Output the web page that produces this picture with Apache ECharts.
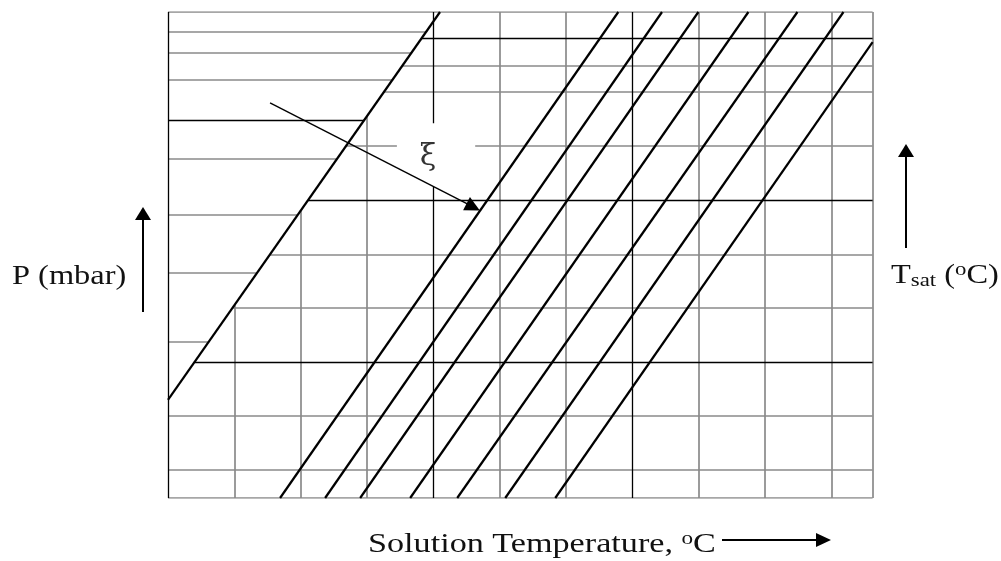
<!DOCTYPE html>
<html>
<head>
<meta charset="utf-8">
<script src="https://cdn.jsdelivr.net/npm/echarts@6/dist/echarts.min.js"></script>
<style>html,body{margin:0;padding:0;background:#fff}#c{width:1001px;height:561px}</style>
</head>
<body>
<div id="c"></div>
<script>
// ---- data (schematic Dühring chart, arbitrary grid units) ----
const xMax = 10.62;            // solution temperature axis extent (grid units)
const yMax = 9;                // Tsat axis extent (grid units)
const verticalLines = [1, 2, 3, 4, 5, 6, 7, 8, 9, 10];
const verticalBold = [4, 7];
const tsatLines = [0.52, 1.52, 2.52, 3.52, 4.5, 5.52, 6.52, 7.52, 8.0, 8.52];
const tsatBold = [2.52, 5.52, 8.52];
const pressureLines = [2.89, 4.17, 5.24, 6.28, 7.0, 7.74, 8.246, 8.635];
const pressureBold = [7.0];
const waterLine = [-1.036, 4.10];          // x at y=0, x at y=yMax (pure refrigerant line)
const solBottomX = [1.689, 2.368, 2.896, 3.650, 4.359, 5.083, 5.837];
const solTopX = [6.787, 7.446, 7.994, 8.748, 9.487, 10.181, 10.937];
const xiArrow = [[1.538, 7.315], [4.60, 5.389]];
const xiLabel = [3.92, 6.31];
const xiGapX = [3.45, 4.63];   // gap in Tsat line 6.52 around label
const xiGapY = [5.76, 6.94];   // gap in vertical line 4 around label
const xiGapLine = 6.52, xiGapVertical = 4;

// ---- build segments ----
const satX = y => waterLine[0] + (waterLine[1] - waterLine[0]) * y / yMax;
const satY = x => yMax * (x - waterLine[0]) / (waterLine[1] - waterLine[0]);
const gray = [], black = [], diag = [];
const seg = (arr, a, b) => arr.push({coords: [a, b]});

verticalLines.forEach(x => {
  const arr = verticalBold.includes(x) ? black : gray;
  const top = x === xiGapVertical ? yMax : Math.min(yMax, satY(x));
  if (x === xiGapVertical) { seg(arr, [x, 0], [x, xiGapY[0]]); seg(arr, [x, xiGapY[1]], [x, top]); }
  else seg(arr, [x, 0], [x, top]);
});
tsatLines.forEach(y => {
  const arr = tsatBold.includes(y) ? black : gray;
  const x1 = Math.max(0, satX(y));
  if (y === xiGapLine) { seg(arr, [x1, y], [xiGapX[0], y]); seg(arr, [xiGapX[1], y], [xMax, y]); }
  else seg(arr, [x1, y], [xMax, y]);
});
pressureLines.forEach(y => {
  const arr = pressureBold.includes(y) ? black : gray;
  seg(arr, [0, y], [satX(y), y]);
});
// frame
seg(gray, [0, yMax], [xMax, yMax]);
seg(gray, [xMax, 0], [xMax, yMax]);
seg(gray, [0, 0], [xMax, 0]);
seg(black, [0, 0], [0, yMax]);
// diagonals
seg(diag, [0, satY(0)], [waterLine[1], yMax]);
solBottomX.forEach((b, i) => {
  const t = solTopX[i];
  if (t > xMax) seg(diag, [b, 0], [xMax, yMax * (xMax - b) / (t - b)]);
  else seg(diag, [b, 0], [t, yMax]);
});

const serif = '"Liberation Serif", "DejaVu Serif", serif';
const chart = echarts.init(document.getElementById('c'), null, {renderer: 'canvas'});
const arrowUp = (x, y1, y2) => [
  {type: 'line', shape: {x1: x, y1: y1, x2: x, y2: y2 + 10}, style: {stroke: '#000', lineWidth: 2}},
  {type: 'polygon', shape: {points: [[x, y2], [x - 8, y2 + 13], [x + 8, y2 + 13]]}, style: {fill: '#000'}}
];
chart.setOption({
  animation: false,
  grid: {left: 168, top: 12, right: 128.4, bottom: 63, containLabel: false},
  xAxis: {type: 'value', min: 0, max: xMax, show: false},
  yAxis: {type: 'value', min: 0, max: yMax, show: false},
  series: [
    {type: 'lines', coordinateSystem: 'cartesian2d', data: gray, silent: true,
     lineStyle: {color: '#8a8a8a', width: 1.7, opacity: 1}},
    {type: 'lines', coordinateSystem: 'cartesian2d', data: black, silent: true,
     lineStyle: {color: '#000', width: 1.3, opacity: 1}},
    {type: 'lines', coordinateSystem: 'cartesian2d', data: diag, silent: true,
     lineStyle: {color: '#000', width: 2.2, opacity: 1}},
    {type: 'lines', coordinateSystem: 'cartesian2d', silent: true,
     data: [{coords: xiArrow}], symbol: ['none', 'triangle'], symbolSize: [11, 15],
     lineStyle: {color: '#000', width: 1.4, opacity: 1}},
    {type: 'scatter', data: [xiLabel], symbolSize: 0, silent: true,
     label: {show: true, position: 'inside', formatter: 'ξ', color: '#000',
             fontSize: 30, fontFamily: '"DejaVu Serif", serif'}}
  ],
  graphic: [
    {type: 'text', x: 12, y: 277, scaleX: 1.2,
     style: {text: 'P (mbar)', font: '27px ' + serif, fill: '#111', verticalAlign: 'middle'}},
    ...arrowUp(143, 312, 207),
    {type: 'text', x: 891, y: 276, scaleX: 1.2,
     style: {text: '{a|T}{b|sat}{a| (}{c|o}{a|C)}', verticalAlign: 'middle', fill: '#111',
       rich: {a: {font: '27px ' + serif, lineHeight: 28, fill: '#111'},
              b: {font: '19px ' + serif, lineHeight: 30, verticalAlign: 'bottom', fill: '#111'},
              c: {font: '19px ' + serif, lineHeight: 28, verticalAlign: 'top', fill: '#111'}}}},
    ...arrowUp(906, 248, 144),
    {type: 'text', x: 368, y: 545, scaleX: 1.22,
     style: {text: '{a|Solution Temperature, }{c|o}{a|C}', verticalAlign: 'middle', fill: '#111',
       rich: {a: {font: '28px ' + serif, lineHeight: 30, fill: '#111'},
              c: {font: '19px ' + serif, lineHeight: 30, verticalAlign: 'top', fill: '#111'}}}},
    {type: 'line', shape: {x1: 722, y1: 540, x2: 820, y2: 540}, style: {stroke: '#000', lineWidth: 2}},
    {type: 'polygon', shape: {points: [[831, 540], [816, 533], [816, 547]]}, style: {fill: '#000'}}
  ]
});
</script>
</body>
</html>
